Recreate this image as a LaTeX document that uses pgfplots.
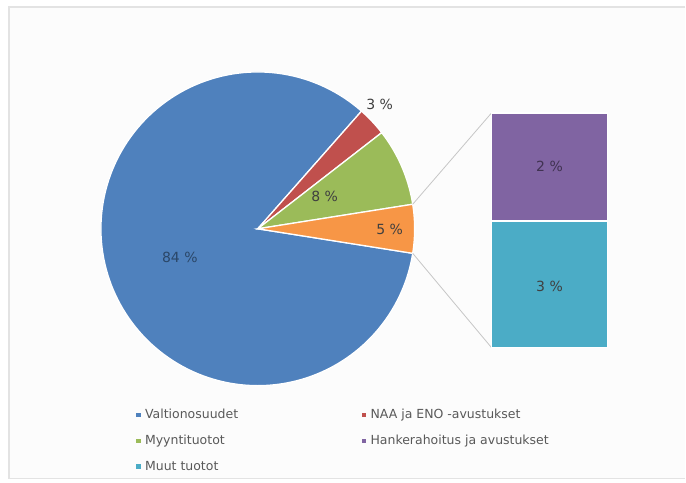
\documentclass[border=0pt]{standalone}
\usepackage{pgfplots}
\pgfplotsset{compat=1.18}
\usepackage{fontspec}
\setmainfont{DejaVu Sans}
\definecolor{cBlue}{HTML}{4F81BD}
\definecolor{cRed}{HTML}{C0504D}
\definecolor{cGreen}{HTML}{9BBB59}
\definecolor{cPurple}{HTML}{8064A2}
\definecolor{cTeal}{HTML}{4BACC6}
\definecolor{cOrange}{HTML}{F79646}
\definecolor{txt}{HTML}{404040}
\definecolor{legtxt}{HTML}{595959}
\begin{document}
\begin{tikzpicture}
% data (percent)
\def\vA{84}   % Valtionosuudet
\def\vB{3}    % NAA ja ENO -avustukset
\def\vC{8}    % Myyntituotot
\def\vD{2.3}  % Hankerahoitus ja avustukset
\def\vE{2.7}  % Muut tuotot
\pgfmathsetmacro\other{\vD+\vE}
\pgfmathsetmacro\aO{-\other*3.6/2}
\pgfmathsetmacro\aOe{\aO+\other*3.6}
\pgfmathsetmacro\aGe{\aOe+\vC*3.6}
\pgfmathsetmacro\aRe{\aGe+\vB*3.6}
\pgfmathsetmacro\aBe{\aRe+\vA*3.6}
\pgfmathsetmacro\xA{258+157*cos(\aOe)}
\pgfmathsetmacro\yA{254+157*sin(\aOe)}
\pgfmathsetmacro\xB{258+157*cos(\aO)}
\pgfmathsetmacro\yB{254+157*sin(\aO)}
\begin{axis}[x=1bp, y=1bp, xmin=0, xmax=686, ymin=0, ymax=483,
  hide axis, clip=false, axis line style={draw=none},
  legend columns=2,
  legend cell align=left,
  legend image code/.code={\fill[#1,draw=none] (0bp,-2.2bp) rectangle (4.5bp,2.2bp);},
  legend style={draw=none, fill=none, at={(axis cs:133,77)}, anchor=north west,
     font=\fontsize{12.5bp}{15bp}\selectfont, text=legtxt,
     nodes={inner sep=1.5bp}, row sep=12bp,
     /tikz/every odd column/.append style={column sep=3bp},
     /tikz/every even column/.append style={column sep=122bp}},
]
\fill[white] (axis cs:0,0) rectangle (axis cs:686,483);
\fill[gray!2] (axis cs:9,4) rectangle (axis cs:686,476);
\draw[gray!22, line width=1.2bp] (axis cs:686,476) -- (axis cs:9,476) -- (axis cs:9,4) -- (axis cs:686,4);
\addplot[fill=cBlue, draw=white, line width=1.3bp, domain=\aRe:\aBe, samples=150, variable=\t]
  ({258+157*cos(t)}, {254+157*sin(t)}) -- (axis cs:258,254) -- cycle;
\addplot[fill=cRed, draw=white, line width=1.3bp, domain=\aGe:\aRe, samples=10, variable=\t]
  ({258+157*cos(t)}, {254+157*sin(t)}) -- (axis cs:258,254) -- cycle;
\addplot[fill=cGreen, draw=white, line width=1.3bp, domain=\aOe:\aGe, samples=20, variable=\t]
  ({258+157*cos(t)}, {254+157*sin(t)}) -- (axis cs:258,254) -- cycle;
\addplot[forget plot, fill=cOrange, draw=white, line width=1.3bp, domain=\aO:\aOe, samples=15, variable=\t]
  ({258+157*cos(t)}, {254+157*sin(t)}) -- (axis cs:258,254) -- cycle;
\addlegendimage{fill=cPurple}
\addlegendimage{fill=cTeal}
\legend{Valtionosuudet, NAA ja ENO -avustukset, Myyntituotot, Hankerahoitus ja avustukset, Muut tuotot}
% connector lines
\addplot[forget plot, draw=gray!45, line width=0.8bp] coordinates {(\xA,\yA) (492,370)};
\addplot[forget plot, draw=gray!45, line width=0.8bp] coordinates {(\xB,\yB) (492,135)};
% pie labels
\node[text=cBlue!55!black, font=\fontsize{14bp}{16bp}\selectfont] at (axis cs:180,225) {84 \%};
\node[text=txt, font=\fontsize{14bp}{16bp}\selectfont] at (axis cs:380,378) {3 \%};
\node[text=txt, font=\fontsize{14bp}{16bp}\selectfont] at (axis cs:325,286) {8 \%};
\node[text=txt, font=\fontsize{14bp}{16bp}\selectfont] at (axis cs:390,253) {5 \%};
\coordinate (barSW) at (axis cs:492,135);
\end{axis}
\begin{axis}[at={(barSW)}, anchor=south west, width=116bp, height=235bp, scale only axis,
  hide axis, clip=false, xmin=-0.5, xmax=0.5, ymin=0, ymax=\other,
  ybar stacked, bar width=116bp]
\addplot[fill=cTeal, draw=white, line width=1.5bp] coordinates {(0,\vE)};
\addplot[fill=cPurple, draw=white, line width=1.5bp] coordinates {(0,\vD)};
\end{axis}
\node[text=txt, font=\fontsize{14bp}{16bp}\selectfont] at (550bp,196bp) {3 \%};
\node[text=cPurple!50!black, font=\fontsize{14bp}{16bp}\selectfont] at (550bp,316bp) {2 \%};
\end{tikzpicture}
\end{document}
